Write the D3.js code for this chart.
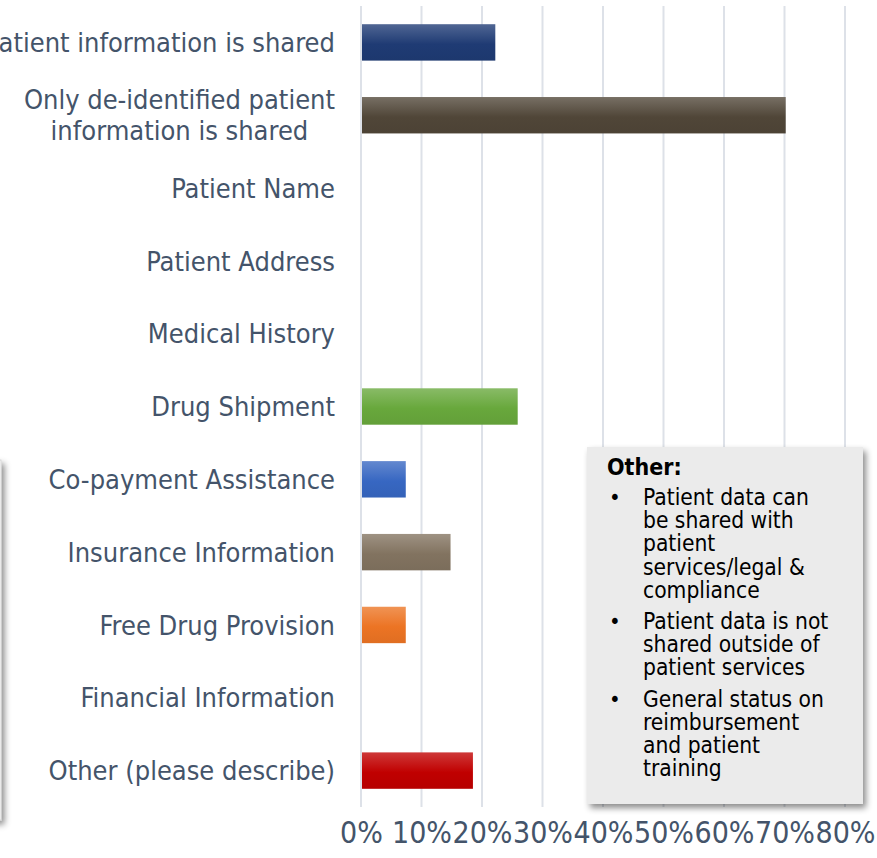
<!DOCTYPE html>
<html>
<head>
<meta charset="utf-8">
<script src="https://cdn.jsdelivr.net/npm/d3@7"></script>
<style>
  body { margin: 0; background: #fff; overflow: hidden; }
  svg { display: block; }
  text { font-family: "DejaVu Sans Condensed", "DejaVu Sans", sans-serif; font-stretch: condensed; }
</style>
</head>
<body>
<svg id="chart" width="877" height="858"></svg>
<script>
var categories = [
  "All patient information is shared",
  "Only de-identified patient|information is shared",
  "Patient Name",
  "Patient Address",
  "Medical History",
  "Drug Shipment",
  "Co-payment Assistance",
  "Insurance Information",
  "Free Drug Provision",
  "Financial Information",
  "Other (please describe)"
];
var values = [0.222, 0.702, 0, 0, 0, 0.259, 0.074, 0.148, 0.074, 0, 0.185];
var barColors = ["#1f3b74", "#504638", "#68a83c", "#3767c2", "#827360", "#ec7424", "#c00000"];
var colorIndex = [0, 1, -1, -1, -1, 2, 3, 4, 5, -1, 6];
var ticks = [0, 0.1, 0.2, 0.3, 0.4, 0.5, 0.6, 0.7, 0.8];
var noteTitle = "Other:";
var noteBullets = [
  ["Patient data can", "be shared with", "patient", "services/legal &", "compliance"],
  ["Patient data is not", "shared outside of", "patient services"],
  ["General status on", "reimbursement", "and patient", "training"]
];

var svg = d3.select("#chart");
var textColor = "#44546a";

var x = d3.scaleLinear().domain([0, 0.8]).range([361, 845]);
var y = d3.scaleBand().domain(categories).range([6, 807]).paddingInner(0.5).paddingOuter(0.25);

var defs = svg.append("defs");
var shadow = defs.append("filter").attr("id", "shadow")
  .attr("x", "-10%").attr("y", "-10%").attr("width", "130%").attr("height", "130%");
shadow.append("feDropShadow").attr("dx", 3).attr("dy", 4).attr("stdDeviation", 3)
  .attr("flood-color", "#000").attr("flood-opacity", 0.45);

categories.forEach(function(c, i) {
  if (colorIndex[i] < 0) return;
  var base = d3.color(barColors[colorIndex[i]]);
  var g = defs.append("linearGradient").attr("id", "grad" + i)
    .attr("x1", 0).attr("y1", 0).attr("x2", 0).attr("y2", 1);
  g.append("stop").attr("offset", "0%").attr("stop-color", d3.interpolateRgb(base, "#fff")(0.22));
  g.append("stop").attr("offset", "55%").attr("stop-color", base.formatHex());
  g.append("stop").attr("offset", "100%").attr("stop-color", base.darker(0.15).formatHex());
});

// box cut by the left edge
svg.append("rect")
  .attr("x", -400).attr("y", 460).attr("width", 401).attr("height", 360)
  .attr("fill", "#fff").attr("stroke", "#d4d4d4").attr("filter", "url(#shadow)");

// gridlines
svg.append("g").selectAll("line").data(ticks).join("line")
  .attr("x1", function(d){ return x(d); }).attr("x2", function(d){ return x(d); })
  .attr("y1", 6).attr("y2", 807)
  .attr("stroke", "#dde1e8").attr("stroke-width", 2);

// bars
svg.append("g").selectAll("rect").data(categories).join("rect")
  .attr("x", x(0) + 1)
  .attr("y", function(d){ return y(d); })
  .attr("width", function(d, i){ return Math.max(0, x(values[i]) - x(0) - 1); })
  .attr("height", y.bandwidth())
  .attr("fill", function(d, i){ return colorIndex[i] < 0 ? "none" : "url(#grad" + i + ")"; });

// category labels: block right-aligned, lines centred within it
var labelRight = 335;
var labelG = svg.append("g");
categories.forEach(function(d) {
  var parts = d.split("|");
  var cy = y(d) + y.bandwidth() / 2;
  var texts = parts.map(function(p, k) {
    return labelG.append("text")
      .attr("fill", textColor).attr("font-size", 27)
      .attr("y", cy + 27 * 0.36 + (k - (parts.length - 1) / 2) * 31)
      .text(p);
  });
  var widest = d3.max(texts, function(t){ return t.node().getComputedTextLength(); });
  texts.forEach(function(t) {
    t.attr("text-anchor", "middle").attr("x", labelRight - widest / 2);
  });
});

// x axis
var xAxis = d3.axisBottom(x).tickValues(ticks).tickFormat(d3.format(".0%")).tickSize(0);
var ax = svg.append("g").attr("transform", "translate(0,816)").call(xAxis);
ax.select(".domain").remove();
ax.selectAll("text").attr("fill", textColor).attr("font-size", 30)
  .attr("font-family", "\"DejaVu Sans Condensed\", \"DejaVu Sans\", sans-serif").attr("dy", "0.8em");

// note box
var box = svg.append("g");
box.append("rect").attr("x", 587).attr("y", 447).attr("width", 276).attr("height", 357)
  .attr("fill", "#ebebeb").attr("filter", "url(#shadow)");
box.append("text").attr("x", 607).attr("y", 475).attr("font-size", 23).attr("font-weight", "bold")
  .attr("fill", "#000").text(noteTitle);
var lineY = 505;
noteBullets.forEach(function(lines) {
  box.append("text").attr("x", 609).attr("y", lineY).attr("font-size", 22).attr("fill", "#000").text("•");
  lines.forEach(function(l) {
    box.append("text").attr("x", 643).attr("y", lineY).attr("font-size", 22.6).attr("fill", "#000").text(l);
    lineY += 23.2;
  });
  lineY += 8;
});
</script>
</body>
</html>
